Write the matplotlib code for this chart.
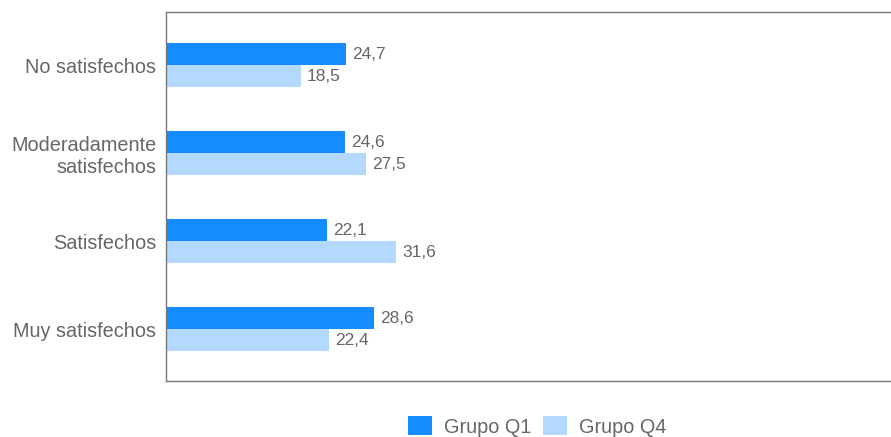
import numpy as np
import matplotlib.pyplot as plt

categories = ["No satisfechos", "Moderadamente\nsatisfechos", "Satisfechos", "Muy satisfechos"]
q1 = [24.7, 24.6, 22.1, 28.6]
q4 = [18.5, 27.5, 31.6, 22.4]
labels = ["Grupo Q1", "Grupo Q4"]

plt.rcParams["font.family"] = ["Liberation Sans", "DejaVu Sans"]
txt = "#666666"

fig = plt.figure(figsize=(8.91, 4.37), dpi=100)
ax = fig.add_axes([0.1863, 0.1281, 0.8137, 0.8444])

y = np.arange(len(categories))
h = 0.25
b1 = ax.barh(y - h / 2, q1, height=h, color="#158cff", label=labels[0])
b2 = ax.barh(y + h / 2, q4, height=h, color="#b3d9ff", label=labels[1])

for bars, vals in ((b1, q1), (b2, q4)):
    for b, v in zip(bars, vals):
        ax.text(v + 0.8, b.get_y() + b.get_height() / 2, f"{v:.1f}".replace(".", ","),
                va="center", ha="left", fontsize=12.5, color=txt)

ax.set_xlim(0, 99.5)
ax.set_ylim(3.59, -0.602)
ax.set_yticks(y)
ax.set_yticklabels(categories, fontsize=14.3, color=txt, ha="right", multialignment="right")
ax.tick_params(axis="y", length=0, pad=7)
ax.set_xticks([])
ax.spines["right"].set_visible(False)
for s in ax.spines.values():
    s.set_color("#777777")
    s.set_linewidth(1)

fig.legend(handles=[b1, b2], labels=labels, loc="center", bbox_to_anchor=(0.603, 0.024),
           ncol=2, frameon=False, fontsize=14.3, labelcolor=txt,
           handlelength=1.2, handleheight=1.1, columnspacing=0.6, handletextpad=0.6)

fig.savefig("out.png", dpi=100)
